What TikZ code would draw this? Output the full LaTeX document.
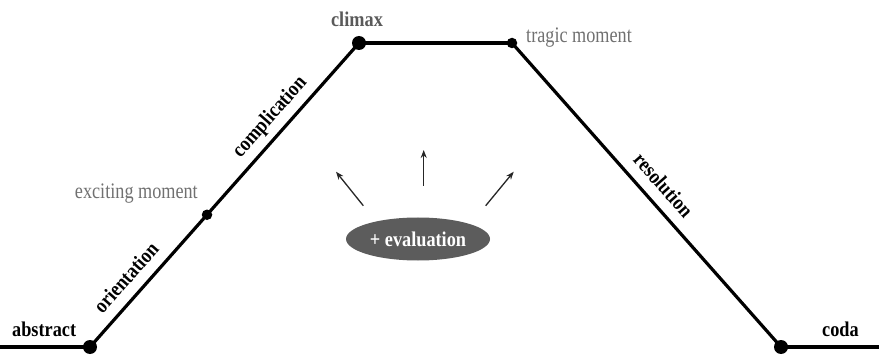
\documentclass[tikz,border=0pt]{standalone}
\usepackage{fontspec}
\setmainfont{Liberation Serif}[FakeStretch=0.87]
\newfontfamily\momentfont{Liberation Serif}[FakeStretch=0.82]
\usetikzlibrary{shapes.geometric,arrows.meta,calc}
\definecolor{labelgray}{HTML}{707070}
\definecolor{peakgray}{HTML}{5A5A5A}
\definecolor{bubblegray}{HTML}{5C5C5C}
\begin{document}
\begin{tikzpicture}[x=1pt,y=1pt,
  every node/.style={font=\fontsize{21}{24}\selectfont},
  plotline/.style={line width=3.2pt, black},
  bigdot/.style={circle, fill=black, inner sep=0pt, minimum size=14pt},
  smalldot/.style={circle, fill=black, inner sep=0pt, minimum size=10.5pt},
  phase/.style={sloped, above, font=\fontsize{21}{24}\selectfont\bfseries,
    text depth=0pt, inner xsep=0pt, inner ysep=10.5pt},
  endlabel/.style={inner sep=0pt, font=\fontsize{21}{24}\selectfont\bfseries},
  moment/.style={inner sep=0pt, text=labelgray, font=\momentfont\fontsize{22.2}{26}\selectfont},
  evarrow/.style={-{Stealth[length=8pt,width=6pt]}, line width=1.3pt, black!85}
]
\useasboundingbox (0,0) rectangle (879,354);

% turning points of the plot curve
\coordinate (L0) at (0,7);
\coordinate (R0) at (879,7);
\node[bigdot] (A) at (90,7) {};
\node[bigdot] (C) at (359,311) {};
\node[smalldot] (E) at ($(A.center)!0.435!(C.center)$) {};
\node[smalldot] (T) at (512,311) {};
\node[bigdot] (D) at (781,7) {};

% the plot line with its phase labels
\draw[plotline] (L0) -- (A.center);
\draw[plotline] (A.center) -- node[phase, pos=0.43] (ori) {orientation} (E.center);
\draw[plotline] (E.center) -- node[phase, pos=0.5] (com) {complication} (C.center);
\draw[plotline] (C.center) -- (T.center);
\draw[plotline] (T.center) -- node[phase, pos=0.51] (res) {resolution} (D.center);
\draw[plotline] (D.center) -- (R0);

% point labels
\node[endlabel, anchor=base west] (abs) at (12,18) {abstract};
\node[endlabel, anchor=base west] (cod) at (822,18) {coda};
\node[endlabel, anchor=base, text=peakgray] (cli) at (357,327.3) {climax};
\node[moment, anchor=base west] (tra) at (526,311) {tragic moment};
\node[moment, anchor=base east] (exc) at (198,155) {exciting moment};

% evaluation bubble with its rising arrows
\node[ellipse, fill=bubblegray, text=white, minimum width=144pt,
  minimum height=43pt, inner sep=0pt, font=\fontsize{21}{24}\selectfont\bfseries]
  (ev) at (418,115) {+ evaluation};
\coordinate (a1s) at (363.3,148.3);
\coordinate (a1e) at (336,182.3);
\coordinate (a2s) at (423.7,168.3);
\coordinate (a2e) at (423.7,204);
\coordinate (a3s) at (485.7,148.3);
\coordinate (a3e) at (513.7,182.3);
\draw[evarrow] (a1s) -- (a1e);
\draw[evarrow] (a2s) -- (a2e);
\draw[evarrow] (a3s) -- (a3e);
\end{tikzpicture}
\end{document}
